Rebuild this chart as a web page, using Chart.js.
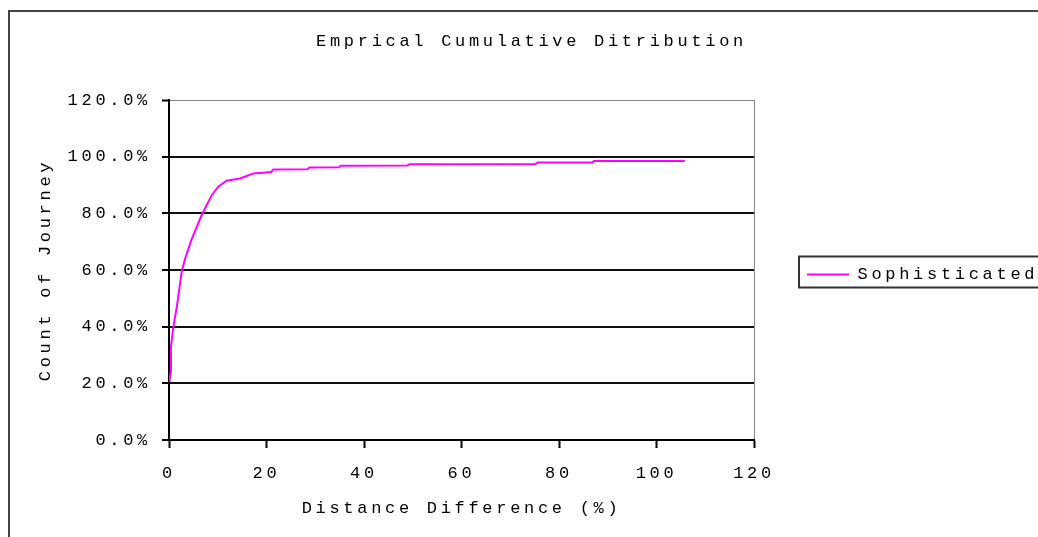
<!DOCTYPE html>
<html>
<head>
<meta charset="utf-8">
<script src="https://cdn.jsdelivr.net/npm/chart.js@4"></script>
<style>
	html, body { margin: 0; padding: 0; background: #fff; overflow: hidden; }
	canvas { display: block; }
</style>
</head>
<body>
<canvas id="ecdfChart" width="1041" height="537"></canvas>
<script>
// distance difference (%) against cumulative share of journeys (%)
var distance = [0.1, 0.3, 0.4, 0.9, 1.6, 1.9, 2.6, 3.3, 4.6, 6.7, 8.8, 10.1, 11.8, 14.6, 17.3, 21.0, 21.4, 28.4, 28.8, 34.9, 35.3, 48.9, 49.3, 75.2, 75.6, 86.8, 87.2, 105.8];
var cumulative = [20.5, 24.0, 33.0, 40.0, 47.0, 50.6, 59.4, 64.0, 70.6, 79.4, 86.5, 89.4, 91.5, 92.3, 94.1, 94.6, 95.5, 95.6, 96.2, 96.3, 96.8, 96.9, 97.3, 97.4, 97.9, 97.9, 98.5, 98.5];
var seriesName = "Sophisticated";

var xTicks = [0, 20, 40, 60, 80, 100, 120];
var yTicks = [0, 20, 40, 60, 80, 100, 120];

Chart.defaults.font.family = "'Liberation Mono', 'Courier New', monospace";
Chart.defaults.font.size = 17;
Chart.defaults.color = "#000";

var SPACING = "3.7px";
var LEGEND_WIDTH = 286;

function toPoints(xs, ys) {
	return xs.map(function (x, i) {
		return { x: x, y: ys[i] };
	});
}

// old spreadsheet look: spaced courier text, a frame and a boxed legend
var sheetStyle = {
	id: "sheetStyle",
	beforeUpdate: function (chart) {
		chart.ctx.letterSpacing = SPACING;
		var lg = chart.legend;
		if (lg && !lg._fixedWidth) {
			var fit = lg.fit;
			lg.fit = function () {
				fit.call(this);
				this.width = LEGEND_WIDTH;
			};
			lg._fixedWidth = true;
		}
	},
	beforeDraw: function (chart) {
		var ctx = chart.ctx;
		ctx.letterSpacing = SPACING;
		ctx.save();
		ctx.strokeStyle = "#444";
		ctx.lineWidth = 2;
		ctx.strokeRect(9, 11, 2000, 2000);
		ctx.restore();
	},
	afterDraw: function (chart) {
		var hb = chart.legend.legendHitBoxes[0];
		if (!hb) return;
		var ctx = chart.ctx;
		var cy = hb.top + hb.height / 2;
		ctx.save();
		ctx.strokeStyle = "#333";
		ctx.lineWidth = 2;
		ctx.strokeRect(hb.left - 8, cy - 18, 400, 31);
		ctx.restore();
	},
};

var ecdf = document.getElementById("ecdfChart");
var myChart = new Chart(ecdf, {
	type: "line",
	data: {
		datasets: [
			{
				label: seriesName,
				data: toPoints(distance, cumulative),
				borderColor: "#ff00ff",
				backgroundColor: "#ff00ff",
				borderWidth: 2,
				pointRadius: 0,
				tension: 0,
				fill: false,
			},
		],
	},
	options: {
		responsive: false,
		animation: false,
		layout: {
			padding: { left: 23, right: 1, top: 0, bottom: 0 },
		},
		plugins: {
			title: {
				display: true,
				text: "Emprical Cumulative Ditribution",
				color: "#000",
				font: { size: 17, weight: "normal" },
				padding: { top: 31, bottom: 48.6 },
			},
			legend: {
				position: "right",
				// empty title only nudges the entry down a little
				title: {
					display: true,
					text: "",
					font: { size: 10 },
					padding: 0,
				},
				labels: {
					usePointStyle: true,
					pointStyle: "line",
					pointStyleWidth: 42,
					padding: 53,
					color: "#000",
					font: { size: 17 },
				},
			},
			tooltip: { enabled: false },
		},
		scales: {
			x: {
				type: "linear",
				min: 0,
				max: 120,
				afterBuildTicks: function (scale) {
					scale.ticks = xTicks.map(function (v) { return { value: v }; });
				},
				afterFit: function (scale) {
					scale.height = 97;
				},
				border: { color: "#000", width: 2 },
				grid: {
					color: function (c) {
						return c.tick && c.tick.value === 120 ? "#888" : "rgba(0,0,0,0)";
					},
					lineWidth: 1,
					tickColor: "#000",
					tickWidth: 2,
					tickLength: 8,
				},
				ticks: {
					padding: 15,
					maxRotation: 0,
					color: "#000",
				},
				title: {
					display: true,
					text: "Distance Difference (%)",
					color: "#000",
					padding: { top: 0, bottom: 18.8 },
				},
			},
			y: {
				min: 0,
				max: 120,
				afterBuildTicks: function (scale) {
					scale.ticks = yTicks.map(function (v) { return { value: v }; });
				},
				afterFit: function (scale) {
					scale.width = 146;
				},
				border: { color: "#000", width: 2 },
				grid: {
					color: function (c) {
						return c.tick && c.tick.value === 120 ? "#888" : "#111";
					},
					lineWidth: function (c) {
						return c.tick && c.tick.value === 120 ? 1 : 2;
					},
					tickColor: "#000",
					tickWidth: 2,
					tickLength: 7,
				},
				ticks: {
					padding: 11,
					color: "#000",
					callback: function (v) {
						return v.toFixed(1) + "%";
					},
				},
				title: {
					display: true,
					text: "Count of Journey",
					color: "#000",
					padding: { top: 12, bottom: 0 },
				},
			},
		},
	},
	plugins: [sheetStyle],
});
</script>
</body>
</html>
